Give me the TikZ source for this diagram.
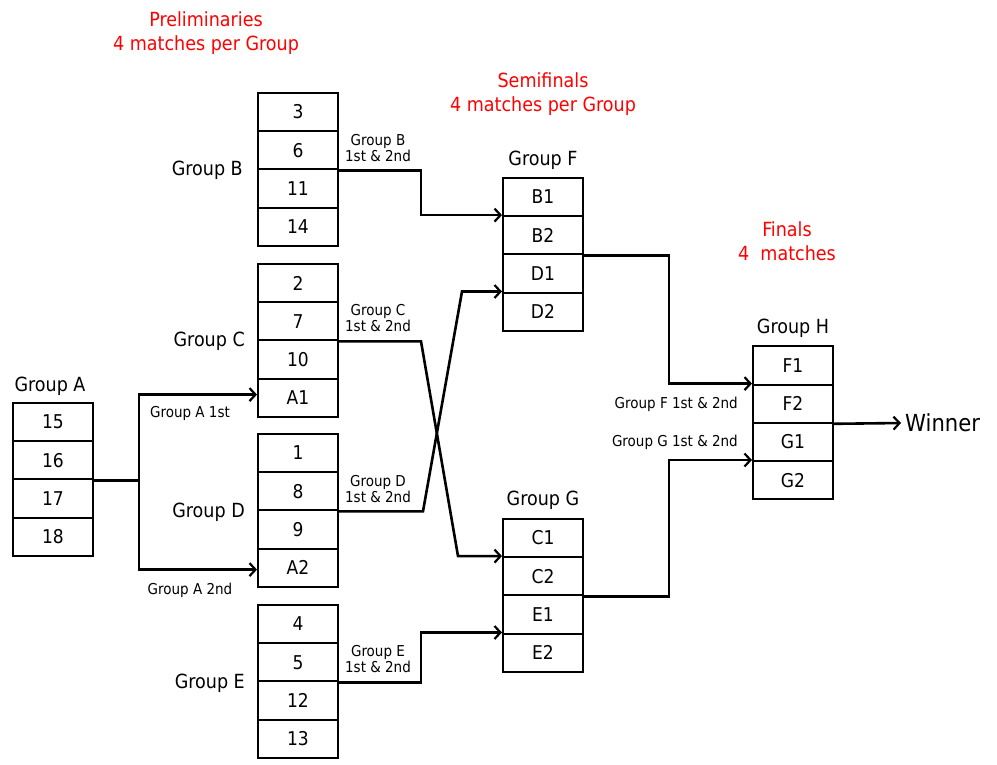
\documentclass[tikz,border=0pt]{standalone}
\usepackage{fontspec}
\setmainfont{DejaVu Sans Condensed}
\usetikzlibrary{arrows.meta,calc}
\begin{document}
\begin{tikzpicture}[x=1pt,y=-1pt,
  cell/.style={draw,line width=2pt,minimum width=80pt,minimum height=38.2pt,inner sep=0pt,font=\fontsize{19}{19}\selectfont},
  glabel/.style={font=\fontsize{19.5}{19.5}\selectfont,inner sep=0pt},
  small/.style={font=\fontsize{15}{16}\selectfont,inner sep=0pt,align=center},
  title/.style={font=\fontsize{19.5}{24}\selectfont,text=red,align=center,inner sep=0pt},
  conn/.style={line width=2.6pt,line join=miter},
  arr/.style={conn,-{Straight Barb[length=6pt,width=13pt,line width=2.2pt]}}]
\useasboundingbox (0,0) rectangle (997,764);
% boxes
\foreach \t [count=\i] in {15,16,17,18} \node[cell] (A\i) at (53,{422+38.2*(\i-1)}) {\t};
\foreach \t [count=\i] in {3,6,11,14} \node[cell] (B\i) at (298,{112+38.2*(\i-1)}) {\t};
\foreach \t [count=\i] in {2,7,10,A1} \node[cell] (C\i) at (298,{283+38.2*(\i-1)}) {\t};
\foreach \t [count=\i] in {1,8,9,A2} \node[cell] (D\i) at (298,{453+38.2*(\i-1)}) {\t};
\foreach \t [count=\i] in {4,5,12,13} \node[cell] (E\i) at (298,{624+38.2*(\i-1)}) {\t};
\foreach \t [count=\i] in {B1,B2,D1,D2} \node[cell] (F\i) at (543,{197+38.2*(\i-1)}) {\t};
\foreach \t [count=\i] in {C1,C2,E1,E2} \node[cell] (G\i) at (543,{538+38.2*(\i-1)}) {\t};
\foreach \t [count=\i] in {F1,F2,G1,G2} \node[cell] (H\i) at (793,{365.5+38.2*(\i-1)}) {\t};
% group labels
\node[glabel] (lA) at (50,386) {Group A};
\node[glabel,anchor=east] (lB) at (243,170) {Group B};
\node[glabel,anchor=east] (lC) at (245,341) {Group C};
\node[glabel,anchor=east] (lD) at (245,512) {Group D};
\node[glabel,anchor=east] (lE) at (245,683) {Group E};
\node[glabel] (lF) at (543,160) {Group F};
\node[glabel] (lG) at (543,500) {Group G};
\node[glabel] (lH) at (793,328) {Group H};
% titles
\node[title] (t1) at (206,33) {Preliminaries\\4 matches per Group};
\node[title] (t2) at (543,94) {Semifinals\\4 matches per Group};
\node[title] (t3) at (787,241) {Finals\\4\ \ matches};
% connector labels
\node[small] (sB) at (378,148) {Group B\\1st \& 2nd};
\node[small] (sC) at (378,318) {Group C\\1st \& 2nd};
\node[small] (sD) at (378,489) {Group D\\1st \& 2nd};
\node[small] (sE) at (378,659) {Group E\\1st \& 2nd};
\node[small] (sA1) at (190,413) {Group A 1st};
\node[small] (sA2) at (190,590) {Group A 2nd};
\node[small,anchor=east] (sF) at (738,404) {Group F 1st \& 2nd};
\node[small,anchor=east] (sG) at (738,442) {Group G 1st \& 2nd};
\node[font=\fontsize{23.5}{23.5}\selectfont,inner sep=0pt,anchor=west] (win) at (905,423) {Winner};
% coordinates
\coordinate (aS) at ($(A2.south east)+(45,0)$);
\coordinate (c1) at ($(C2.south east)+(82,0)$);
\coordinate (c2) at ($(G2.north west)+(-44,0)$);
\coordinate (d1) at ($(D2.south east)+(84,0)$);
\coordinate (d2) at ($(F4.north west)+(-40,0)$);
% connectors
\draw[conn] (A2.south east) -- (aS);
\draw[arr] (aS) |- ($(C4.west)+(0,-3)$);
\draw[arr] (aS) |- ($(D4.west)+(0,2)$);
\draw[arr] (B2.south east) -- ++(82,0) |- (F2.north west);
\draw[arr] (C2.south east) -- (c1) -- (c2) -- (G2.north west);
\draw[arr] (D2.south east) -- (d1) -- (d2) -- (F4.north west);
\draw[arr] (E2.south east) -- ++(82,0) |- (G4.north west);
\draw[arr] (F2.south east) -- ++(85,0) |- (H2.north west);
\draw[arr] (G2.south east) -- ++(85,0) |- (H4.north west);
\draw[arr] (H2.south east) -- ($(win.west)+(-4,0)$);
\end{tikzpicture}
\end{document}
